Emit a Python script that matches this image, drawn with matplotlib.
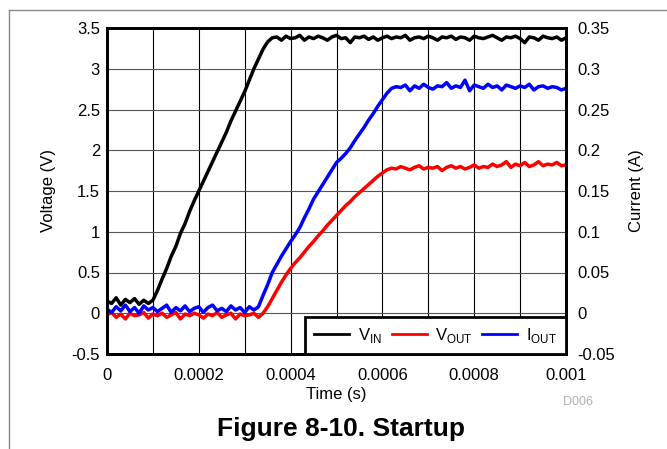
import numpy as np
import matplotlib
matplotlib.use("Agg")
import matplotlib.pyplot as plt
from matplotlib.lines import Line2D

plt.rcParams["font.family"] = ["Liberation Sans", "DejaVu Sans"]
plt.rcParams["mathtext.fontset"] = "custom"
plt.rcParams["mathtext.rm"] = "Liberation Sans"

# sample times, 10 us apart
time_s = np.arange(0, 1001, 10) * 1e-6

v_in = [
    0.15, 0.12, 0.19, 0.10, 0.17, 0.13, 0.18, 0.11, 0.16, 0.12,
    0.16, 0.28, 0.42, 0.55, 0.70, 0.82, 0.98, 1.10, 1.25, 1.38,
    1.50, 1.62, 1.74, 1.86, 1.98, 2.10, 2.22, 2.36, 2.48, 2.60,
    2.72, 2.86, 3.00, 3.12, 3.24, 3.33, 3.38, 3.39, 3.35, 3.40,
    3.37, 3.38, 3.41, 3.35, 3.39, 3.37, 3.40, 3.38, 3.35, 3.39,
    3.41, 3.37, 3.38, 3.32, 3.39, 3.38, 3.40, 3.36, 3.39, 3.35,
    3.38, 3.40, 3.37, 3.39, 3.38, 3.41, 3.35, 3.38, 3.39, 3.37,
    3.40, 3.38, 3.35, 3.39, 3.38, 3.40, 3.36, 3.39, 3.38, 3.35,
    3.40, 3.38, 3.37, 3.39, 3.41, 3.38, 3.35, 3.39, 3.38, 3.40,
    3.37, 3.32, 3.39, 3.38, 3.35, 3.40, 3.38, 3.37, 3.39, 3.35,
    3.38,
]

v_out = [
    -0.02, 0.01, -0.05, -0.01, -0.07, 0.00, -0.03, -0.02, 0.01, -0.06,
    -0.01, -0.03, 0.00, -0.05, -0.02, 0.01, -0.07, -0.01, -0.03, 0.00,
    -0.02, -0.06, -0.01, -0.03, 0.01, -0.05, -0.02, 0.00, -0.07, -0.01,
    -0.03, -0.02, 0.00, -0.05, 0.00, 0.08, 0.18, 0.28, 0.38, 0.47,
    0.55, 0.62, 0.68, 0.75, 0.82, 0.88, 0.95, 1.01, 1.08, 1.14,
    1.20, 1.26, 1.32, 1.37, 1.43, 1.48, 1.53, 1.58, 1.63, 1.68,
    1.72, 1.76, 1.78, 1.77, 1.80, 1.78, 1.76, 1.79, 1.81, 1.77,
    1.79, 1.78, 1.80, 1.75, 1.79, 1.81, 1.78, 1.80, 1.77, 1.79,
    1.82, 1.78, 1.80, 1.79, 1.83, 1.80, 1.82, 1.86, 1.79, 1.83,
    1.81, 1.85, 1.80, 1.82, 1.86, 1.81, 1.83, 1.82, 1.85, 1.81,
    1.82,
]

i_out = [
    0.005, 0.001, 0.008, 0.003, 0.010, 0.002, 0.007, 0.000, 0.009, 0.004,
    0.007, 0.002, 0.006, 0.010, 0.001, 0.007, 0.003, 0.009, 0.002, 0.006,
    0.008, 0.001, 0.007, 0.010, 0.003, 0.006, 0.002, 0.009, 0.004, 0.007,
    0.001, 0.008, 0.004, 0.008, 0.022, 0.035, 0.050, 0.060, 0.070, 0.079,
    0.088, 0.096, 0.105, 0.117, 0.128, 0.140, 0.149, 0.158, 0.167, 0.176,
    0.185, 0.190, 0.196, 0.203, 0.212, 0.220, 0.228, 0.237, 0.245, 0.254,
    0.262, 0.270, 0.276, 0.278, 0.277, 0.280, 0.273, 0.279, 0.276, 0.281,
    0.277, 0.275, 0.279, 0.278, 0.283, 0.276, 0.279, 0.277, 0.286, 0.273,
    0.280, 0.278, 0.276, 0.281, 0.277, 0.279, 0.274, 0.280, 0.278, 0.276,
    0.279, 0.277, 0.281, 0.274, 0.278, 0.279, 0.276, 0.278, 0.277, 0.274,
    0.276,
]

x_ticks = [0, 0.0002, 0.0004, 0.0006, 0.0008, 0.001]
x_tick_labels = ["0", "0.0002", "0.0004", "0.0006", "0.0008", "0.001"]
v_ticks = [-0.5, 0, 0.5, 1, 1.5, 2, 2.5, 3, 3.5]
v_tick_labels = ["-0.5", "0", "0.5", "1", "1.5", "2", "2.5", "3", "3.5"]
i_ticks = [-0.05, 0, 0.05, 0.1, 0.15, 0.2, 0.25, 0.3, 0.35]
i_tick_labels = ["-0.05", "0", "0.05", "0.1", "0.15", "0.2", "0.25", "0.3", "0.35"]

fig = plt.figure(figsize=(6.67, 4.49), dpi=100)
ax = fig.add_axes([107 / 667, 95 / 449, 459 / 667, 326 / 449])
ax2 = ax.twinx()

# vertical grid every 0.0001 s, horizontal every 0.5 V
for xg in np.arange(1, 10) * 1e-4:
    ax.axvline(xg, color="black", lw=0.8, zorder=0)
for yg in v_ticks[1:-1]:
    ax.axhline(yg, color="#555555", lw=0.8, zorder=0)

ax.plot(time_s, v_in, color="black", lw=2.5)
ax.plot(time_s, v_out, color="red", lw=2.5)
ax2.plot(time_s, i_out, color="blue", lw=2.5)

ax.set_xlim(0, 0.001)
ax.set_ylim(-0.5, 3.5)
ax2.set_ylim(-0.05, 0.35)

ax.set_xticks(x_ticks)
ax.set_xticklabels(x_tick_labels)
ax.set_yticks(v_ticks)
ax.set_yticklabels(v_tick_labels)
ax2.set_yticks(i_ticks)
ax2.set_yticklabels(i_tick_labels)

ax.tick_params(axis="x", length=0, labelsize=12, pad=10)
ax.tick_params(axis="y", length=0, labelsize=12, pad=5)
ax2.tick_params(axis="y", length=0, labelsize=12, pad=8)
for a in (ax, ax2):
    for sp in a.spines.values():
        sp.set_linewidth(2)

ax.set_xlabel("Time (s)", fontsize=12)
ax.set_ylabel("Voltage (V)", fontsize=12)
ax2.set_ylabel("Current (A)", fontsize=12)
ax.xaxis.set_label_coords(0.5, -0.1)
ax.yaxis.set_label_coords(-0.111, 0.5)
ax2.yaxis.set_label_coords(1.137, 0.5)

handles = [
    Line2D([], [], color="black", lw=2),
    Line2D([], [], color="red", lw=2),
    Line2D([], [], color="blue", lw=2),
]
labels = [r"V$_{\mathrm{IN}}$", r"V$_{\mathrm{OUT}}$", r"I$_{\mathrm{OUT}}$"]
leg = ax2.legend(handles, labels, loc="lower right", ncol=3, fontsize=12,
                 borderaxespad=0, frameon=True, fancybox=False,
                 handlelength=2.1, columnspacing=0.6, handletextpad=0.5,
                 borderpad=0.55)
leg.get_frame().set_edgecolor("black")
leg.get_frame().set_linewidth(2)
leg.get_frame().set_alpha(1)

fig.text(578 / 667, 1 - 402 / 449, "D006", color="#b0b0b0", fontsize=9,
         ha="center", va="center")
fig.text(341 / 667, 1 - 429 / 449, "Figure 8-10. Startup", fontsize=19,
         fontweight="bold", ha="center", va="center")

# page frame lines
fig.add_artist(Line2D([9 / 667, 1], [1 - 10 / 449, 1 - 10 / 449],
                      transform=fig.transFigure, color="#888888", lw=1))
fig.add_artist(Line2D([9 / 667, 9 / 667], [0, 1 - 10 / 449],
                      transform=fig.transFigure, color="#888888", lw=1))

fig.savefig("out.png", dpi=100)
